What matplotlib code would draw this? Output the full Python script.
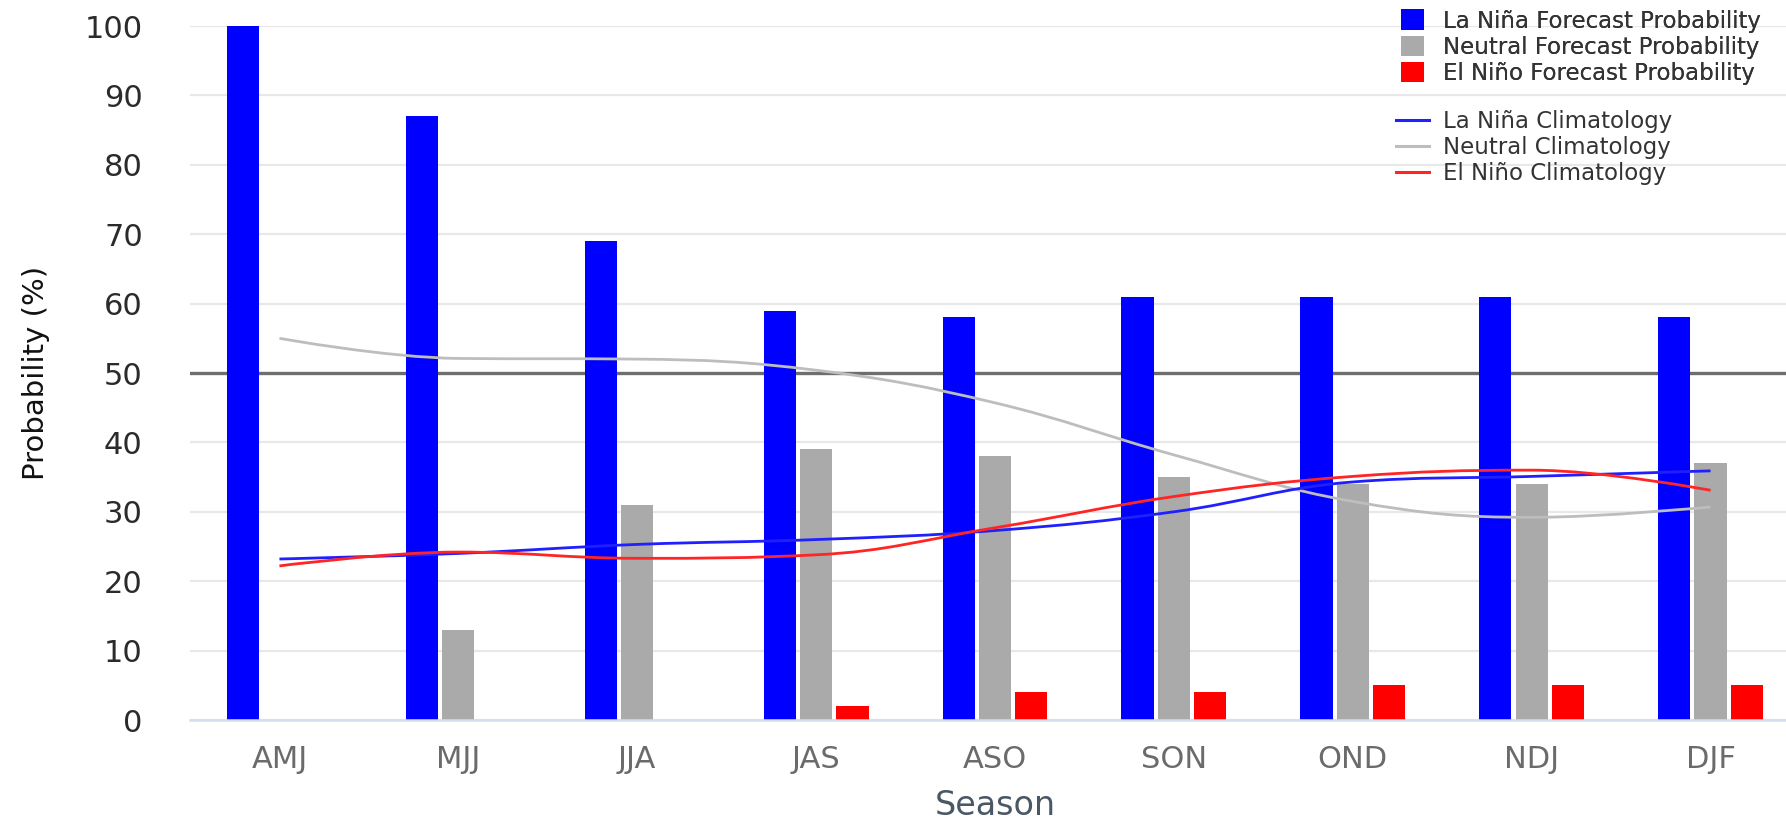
import numpy as np
import matplotlib.pyplot as plt
from matplotlib.path import Path
from matplotlib.patches import PathPatch, Patch
from matplotlib.lines import Line2D

# Seasonal ENSO probabilities (%)
seasons = ['AMJ', 'MJJ', 'JJA', 'JAS', 'ASO', 'SON', 'OND', 'NDJ', 'DJF']
la_nina_fcst = [100, 87, 69, 59, 58, 61, 61, 61, 58]
neutral_fcst = [0, 13, 31, 39, 38, 35, 34, 34, 37]
el_nino_fcst = [0, 0, 0, 2, 4, 4, 5, 5, 5]

la_nina_clim = [23.2, 24.0, 25.3, 26.0, 27.3, 30.0, 34.3, 35.1, 35.9]
neutral_clim = [55.0, 52.1, 52.0, 50.4, 45.7, 38.2, 31.5, 29.2, 30.7]
el_nino_clim = [22.2, 24.2, 23.3, 23.8, 27.7, 32.2, 35.1, 36.0, 33.1]

BLUE, GREY, RED = '#0000ff', '#aaaaaa', '#ff0000'


def spline_path(xs, ys, smoothing=1.5):
    # cubic bezier through every point, same control-point rule as a highcharts spline
    n = len(xs)
    denom = smoothing + 1
    left = [(xs[i], ys[i]) for i in range(n)]
    right = [(xs[i], ys[i]) for i in range(n)]
    for i in range(1, n - 1):
        x, y = xs[i], ys[i]
        px, py = xs[i - 1], ys[i - 1]
        nx, ny = xs[i + 1], ys[i + 1]
        lcx, lcy = (smoothing * x + px) / denom, (smoothing * y + py) / denom
        rcx, rcy = (smoothing * x + nx) / denom, (smoothing * y + ny) / denom
        corr = (rcy - lcy) * (rcx - x) / (rcx - lcx) + y - rcy
        lcy += corr
        rcy += corr
        if lcy > py and lcy > y:
            lcy = max(py, y)
            rcy = 2 * y - lcy
        elif lcy < py and lcy < y:
            lcy = min(py, y)
            rcy = 2 * y - lcy
        if rcy > ny and rcy > y:
            rcy = max(ny, y)
            lcy = 2 * y - rcy
        elif rcy < ny and rcy < y:
            rcy = min(ny, y)
            lcy = 2 * y - rcy
        left[i] = (lcx, lcy)
        right[i] = (rcx, rcy)
    verts = [(xs[0], ys[0])]
    codes = [Path.MOVETO]
    for i in range(1, n):
        verts += [right[i - 1], left[i], (xs[i], ys[i])]
        codes += [Path.CURVE4] * 3
    return Path(verts, codes)


fig = plt.figure(figsize=(17.86, 8.22), dpi=100)
ax = fig.add_axes([190 / 1786, 102 / 822, 1610 / 1786, 694 / 822])

x = np.arange(len(seasons))
w = 0.18
off = 0.203
ax.bar(x - off, la_nina_fcst, w, color=BLUE, zorder=2)
ax.bar(x, neutral_fcst, w, color=GREY, zorder=2)
ax.bar(x + off, el_nino_fcst, w, color=RED, zorder=2)

ax.axhline(50, color='#6e6e6e', lw=2.4, zorder=1.5)

line_colors = ['#2020ff', '#bdbdbd', '#ff2525']
for vals, c in zip([neutral_clim, la_nina_clim, el_nino_clim],
                   [line_colors[1], line_colors[0], line_colors[2]]):
    ax.add_patch(PathPatch(spline_path(list(x.astype(float)), vals), fill=False,
                           edgecolor=c, lw=2.0, zorder=3))

ax.set_xlim(-0.5, 8.5)
ax.set_ylim(0, 100)
ax.set_yticks(np.arange(0, 101, 10))
ax.set_xticks(x)
ax.set_xticklabels(seasons)
ax.tick_params(axis='y', length=0, pad=34, labelsize=22, labelcolor='#2b2b2b')
ax.tick_params(axis='x', length=0, pad=18, labelsize=22, labelcolor='#6b6b6b')
ax.grid(axis='y', color='#e8e8e8', lw=1.6, zorder=0)
ax.set_axisbelow(True)
for s in ['top', 'right', 'left']:
    ax.spines[s].set_visible(False)
ax.spines['bottom'].set_color('#d5ddef')
ax.spines['bottom'].set_linewidth(1.8)

ax.set_xlabel('Season', fontsize=24, color='#4a5764')
ax.xaxis.set_label_coords(0.5, -0.10)
ax.set_ylabel('Probability (%)', fontsize=21, color='#111111')
ax.yaxis.set_label_coords(-0.087, 0.5)

bar_handles = [Patch(facecolor=BLUE), Patch(facecolor=GREY), Patch(facecolor=RED)]
bar_labels = ['La Niña Forecast Probability', 'Neutral Forecast Probability',
              'El Niño Forecast Probability']
leg1 = fig.legend(bar_handles, bar_labels, loc='upper left',
                  bbox_to_anchor=(1390 / 1786, 1 + 2 / 822), frameon=False,
                  fontsize=16.5, handlelength=1.0, handleheight=1.0,
                  handletextpad=0.83, labelspacing=0.13, borderpad=0,
                  labelcolor='#333333')
fig.add_artist(leg1)

line_handles = [Line2D([], [], color=c, lw=2.2) for c in line_colors]
line_labels = ['La Niña Climatology', 'Neutral Climatology', 'El Niño Climatology']
fig.legend(line_handles, line_labels, loc='upper left',
           bbox_to_anchor=(1385 / 1786, 1 - 99 / 822), frameon=False,
           fontsize=16.5, handlelength=1.4, handletextpad=0.65,
           labelspacing=0.13, borderpad=0, labelcolor='#333333')

fig.savefig('out.png', dpi=100)
